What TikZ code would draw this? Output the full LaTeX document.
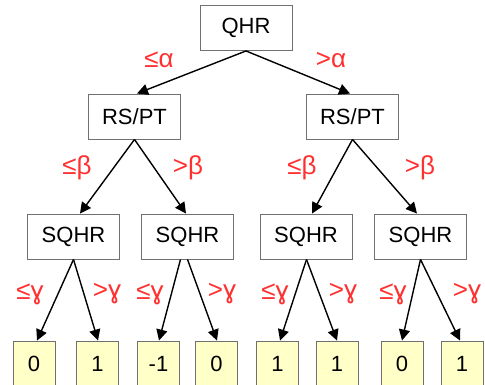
\documentclass[tikz,border=0pt]{standalone}
\usepackage{fontspec}
\setmainfont{Liberation Sans}
\usetikzlibrary{arrows.meta}
\definecolor{boxline}{HTML}{707070}
\definecolor{leafyellow}{HTML}{FFFFC8}
\definecolor{condred}{HTML}{FF3030}
\tikzset{
  testbox/.style={draw=boxline, line width=0.9pt, fill=white, inner sep=0pt,
    minimum width=92pt, minimum height=45pt, font=\fontsize{22}{24}\selectfont},
  leafbox/.style={draw=boxline, line width=0.9pt, fill=leafyellow, inner sep=0pt,
    minimum width=42pt, minimum height=46pt, font=\fontsize{22}{24}\selectfont},
  cond/.style={text=condred, inner sep=0pt, font=\fontsize{26}{28}\selectfont},
  branch/.style={line width=1.4pt, -{Triangle[length=11pt, width=11pt]}}
}
\begin{document}
\begin{tikzpicture}[x=1pt, y=-1pt]
\useasboundingbox (0,0) rectangle (485,385);

% decision nodes
\node[testbox] (q)  at (246,28)    {QHR};
\node[testbox] (rl) at (134.5,116.5) {RS/PT};
\node[testbox] (rr) at (352.5,116.5) {RS/PT};
\node[testbox] (s1) at (73.5,236.5)  {SQHR};
\node[testbox] (s2) at (187.5,236.5) {SQHR};
\node[testbox] (s3) at (306,236.5)   {SQHR};
\node[testbox] (s4) at (420.5,236.5) {SQHR};

% outcome leaves
\node[leafbox] (l1) at (34,364)    {0};
\node[leafbox] (l2) at (97.5,364)  {1};
\node[leafbox] (l3) at (158.5,364) {-1};
\node[leafbox] (l4) at (216.5,364) {0};
\node[leafbox] (l5) at (277.5,364) {1};
\node[leafbox] (l6) at (337,364)   {1};
\node[leafbox] (l7) at (402,364)   {0};
\node[leafbox] (l8) at (462,364)   {1};

% branches
\draw[branch] (q.south) -- ([xshift=2.5pt]rl.north);
\draw[branch] (q.south) -- ([xshift=-2.5pt]rr.north);
\draw[branch] (rl.south) -- ([xshift=6.5pt]s1.north);
\draw[branch] (rl.south) -- ([xshift=-1.5pt]s2.north);
\draw[branch] (rr.south) -- ([xshift=6pt]s3.north);
\draw[branch] (rr.south) -- ([xshift=-3.5pt]s4.north);
\draw[branch] (s1.south) -- ([xshift=3pt]l1.north);
\draw[branch] (s1.south) -- ([xshift=0.5pt]l2.north);
\draw[branch] ([xshift=-7pt]s2.south) -- ([xshift=0.5pt]l3.north);
\draw[branch] (s2.south) -- ([xshift=0.5pt]l4.north);
\draw[branch] ([xshift=0.5pt]s3.south) -- ([xshift=2.5pt]l5.north);
\draw[branch] ([xshift=0.5pt]s3.south) -- (l6.north);
\draw[branch] (s4.south) -- (l7.north);
\draw[branch] (s4.south) -- ([xshift=-2pt]l8.north);

% branch conditions
\node[cond] (ca1) at (159,60)  {≤α};
\node[cond] (ca2) at (331,60)  {>α};
\node[cond] (cb1) at (77,168)  {≤β};
\node[cond] (cb2) at (188,168) {>β};
\node[cond] (cb3) at (302,168) {≤β};
\node[cond] (cb4) at (420,168) {>β};
\node[cond] (cg1) at (30,294)  {≤ɣ};
\node[cond] (cg2) at (107,294) {>ɣ};
\node[cond] (cg3) at (150,294) {≤ɣ};
\node[cond] (cg4) at (222,294) {>ɣ};
\node[cond] (cg5) at (275,294) {≤ɣ};
\node[cond] (cg6) at (343,294) {>ɣ};
\node[cond] (cg7) at (393,294) {≤ɣ};
\node[cond] (cg8) at (467,294) {>ɣ};
\end{tikzpicture}
\end{document}
